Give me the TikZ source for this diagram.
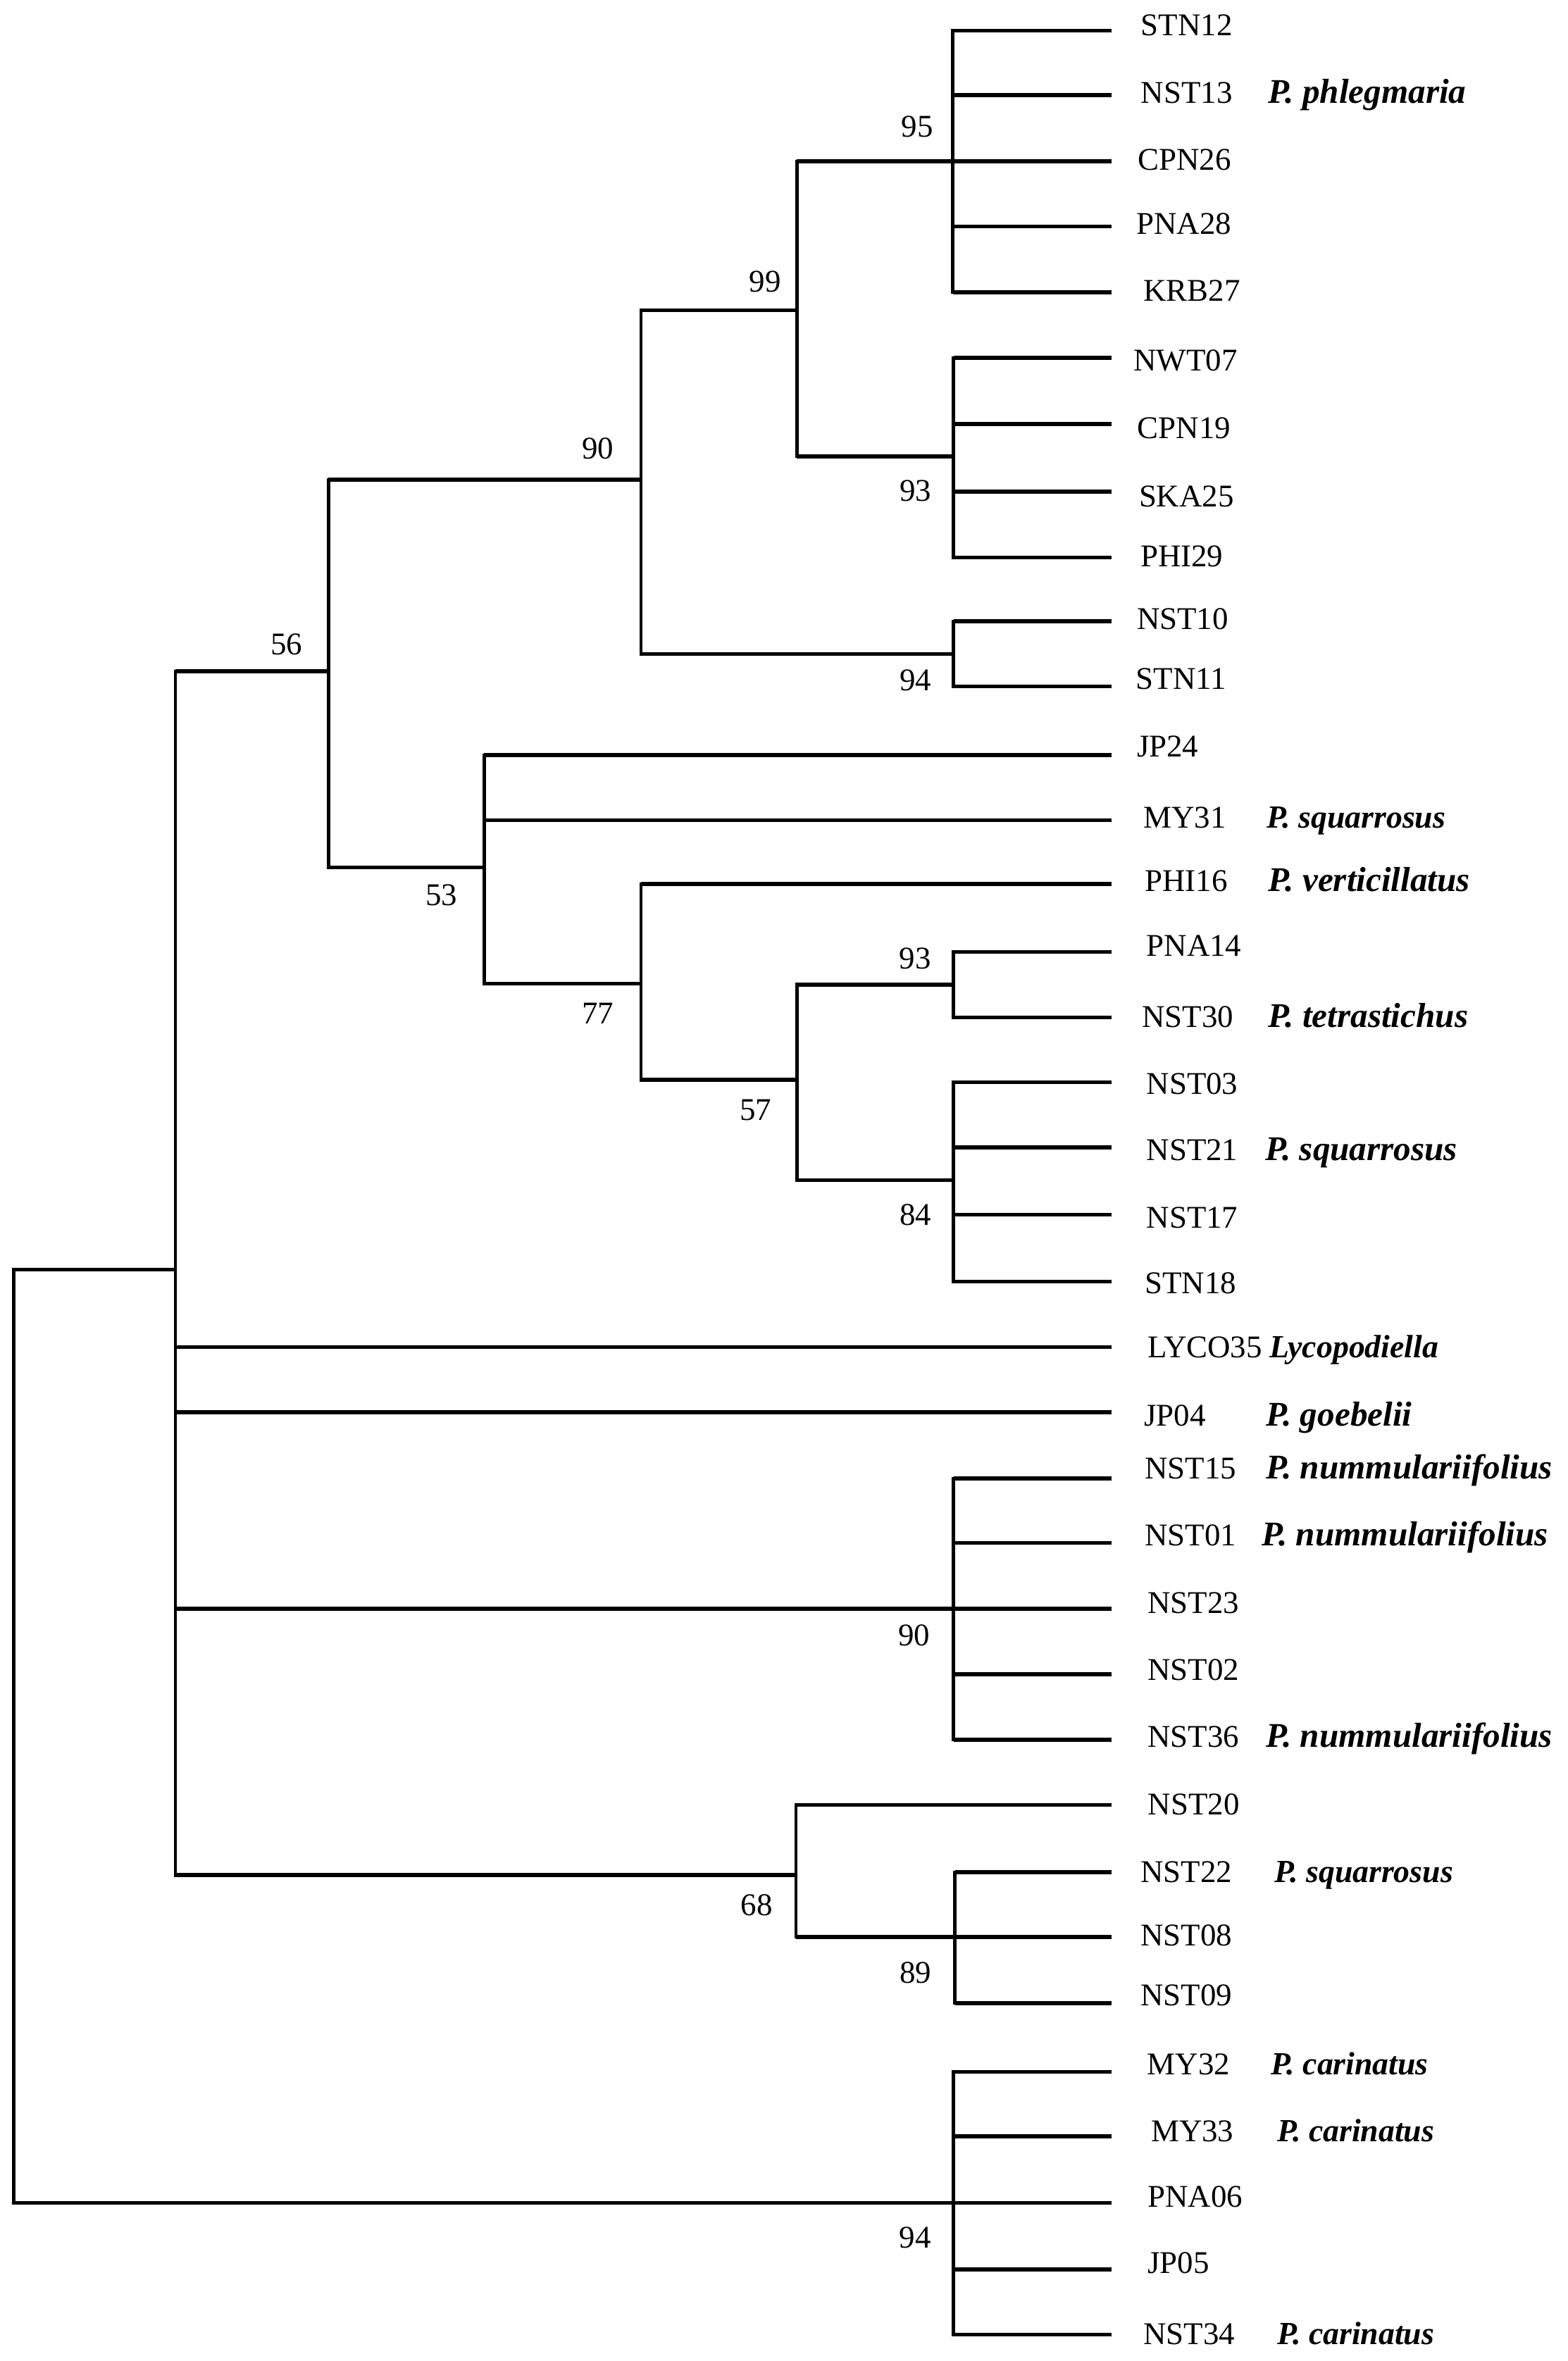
\documentclass[tikz,border=0pt]{standalone}
\usepackage{fontspec}
\setmainfont{Liberation Serif}
\begin{document}
\begin{tikzpicture}[x=1pt,y=-1pt,
  hl/.style={line width=2.6pt},
  vl/.style={line width=2.2pt,line cap=rect},
  leaflab/.style={anchor=base west,inner sep=0pt,font=\fontsize{21}{24}\selectfont},
  sp/.style={anchor=base west,inner sep=0pt,font=\fontsize{23}{26}\selectfont\bfseries\itshape},
  spn/.style={anchor=base west,inner sep=0pt,font=\fontsize{21.4}{24}\selectfont\bfseries\itshape},
  bs/.style={anchor=center,inner sep=0pt,font=\fontsize{21}{24}\selectfont}]
\useasboundingbox[fill=white] (0,0) rectangle (1041,1567.6);
% internal nodes
\coordinate (root) at (9.2,843);
\coordinate (main) at (116.5,843);
\coordinate (n56) at (218,445.7);
\coordinate (n90) at (425.5,318.6);
\coordinate (n99) at (529,206);
\coordinate (n95) at (632.6,107.2);
\coordinate (n93a) at (633,303);
\coordinate (n94a) at (633,434.3);
\coordinate (n53) at (321.5,576);
\coordinate (n77) at (425.5,653);
\coordinate (n57) at (529,717);
\coordinate (n93b) at (633,653.7);
\coordinate (n84) at (633,783.6);
\coordinate (n90b) at (633,1068);
\coordinate (n68) at (528.5,1245);
\coordinate (n89) at (634,1286);
\coordinate (n94b) at (633,1462.5);
% leaves
\foreach \n/\ly/\lx/\ty in {
  STN12/20.3/757.3/16.4, NST13/63.1/757.3/61.6, CPN26/107.2/755.2/106,
  PNA28/150.4/754.3/148.5, KRB27/194.1/759/193, NWT07/237.7/752.4/239,
  CPN19/281.5/755/284, SKA25/326.4/756/329.5, PHI29/370.2/757/369.2,
  NST10/412.6/754.6/410.7, STN11/455.8/754/450.6, JP24/501.3/754.6/495.5,
  MY31/544.5/759/542.6, PHI16/587/760/584.8, PNA14/632/761/627.8,
  NST30/675.5/758/675, NST03/718.6/761/719.3, NST21/761.7/761/763.3,
  NST17/806.5/761/808.2, STN18/851/760/852, LYCO35/894.4/761.7/894.6,
  JP04/937.7/759.5/940, NST15/981.6/760/974.8, NST01/1024.3/760/1019.4,
  NST23/1068/761.7/1064, NST02/1111.6/761.7/1108.7, NST36/1155/761.7/1153,
  NST20/1198.4/762/1197.8, NST22/1243/757.2/1242.7, NST08/1286/757.2/1284.8,
  NST09/1330/757.2/1324.6, MY32/1375.7/761.6/1370.3, MY33/1418.3/764/1414.7,
  PNA06/1462.5/761.7/1458.3, JP05/1506.7/761.7/1502.3, NST34/1550/759/1549.5}{
  \coordinate (t-\n) at (738,\ly);
  \node[leaflab] (l-\n) at (\lx,\ty+7) {\n};
}
% edges
\foreach \p/\c in {
  root/main, root/n94b,
  main/n56, main/t-LYCO35, main/t-JP04, main/n90b, main/n68,
  n56/n90, n56/n53,
  n90/n99, n90/n94a,
  n99/n95, n99/n93a,
  n95/t-STN12, n95/t-NST13, n95/t-CPN26, n95/t-PNA28, n95/t-KRB27,
  n93a/t-NWT07, n93a/t-CPN19, n93a/t-SKA25, n93a/t-PHI29,
  n94a/t-NST10, n94a/t-STN11,
  n53/t-JP24, n53/t-MY31, n53/n77,
  n77/t-PHI16, n77/n57,
  n57/n93b, n57/n84,
  n93b/t-PNA14, n93b/t-NST30,
  n84/t-NST03, n84/t-NST21, n84/t-NST17, n84/t-STN18,
  n90b/t-NST15, n90b/t-NST01, n90b/t-NST23, n90b/t-NST02, n90b/t-NST36,
  n68/t-NST20, n68/n89,
  n89/t-NST22, n89/t-NST08, n89/t-NST09,
  n94b/t-MY32, n94b/t-MY33, n94b/t-PNA06, n94b/t-JP05, n94b/t-NST34}{
  \draw[vl] (\p) -- (\p |- \c);
  \draw[hl] (\p |- \c) -- (\c);
}
% species names
\node[sp] (s-NST13) at (842,68.6) {P. phlegmaria};
\node[spn] (s-MY31) at (841,549.6) {P. squarrosus};
\node[sp] (s-PHI16) at (842,591.8) {P. verticillatus};
\node[sp] (s-NST30) at (842,682) {P. tetrastichus};
\node[sp] (s-NST21) at (840,770.3) {P. squarrosus};
\node[spn] (s-LYCO35) at (842.7,901.6) {Lycopodiella};
\node[sp] (s-JP04) at (840.5,947) {P. goebelii};
\node[sp] (s-NST15) at (840.5,981.8) {P. nummulariifolius};
\node[sp] (s-NST01) at (837.6,1026.4) {P. nummulariifolius};
\node[sp] (s-NST36) at (840.5,1160) {P. nummulariifolius};
\node[spn] (s-NST22) at (846,1249.7) {P. squarrosus};
\node[spn] (s-MY32) at (843.8,1377.3) {P. carinatus};
\node[spn] (s-MY33) at (847.7,1421.7) {P. carinatus};
\node[spn] (s-NST34) at (847.7,1556.5) {P. carinatus};
% bootstrap values
\node[bs] (b95) at (609,84) {95};
\node[bs] (b99) at (508,187) {99};
\node[bs] (b90a) at (397,298) {90};
\node[bs] (b93a) at (607.7,325.7) {93};
\node[bs] (b94a) at (607.7,451.6) {94};
\node[bs] (b56) at (190.2,427.8) {56};
\node[bs] (b53) at (293,594.3) {53};
\node[bs] (b77) at (397,673) {77};
\node[bs] (b57) at (501.7,737.2) {57};
\node[bs] (b93b) at (607.5,636.5) {93};
\node[bs] (b84) at (607.7,806.7) {84};
\node[bs] (b90b) at (607,1086) {90};
\node[bs] (b68) at (502.4,1265) {68};
\node[bs] (b89) at (607.7,1310) {89};
\node[bs] (b94b) at (607.5,1485.7) {94};
\end{tikzpicture}
\end{document}
